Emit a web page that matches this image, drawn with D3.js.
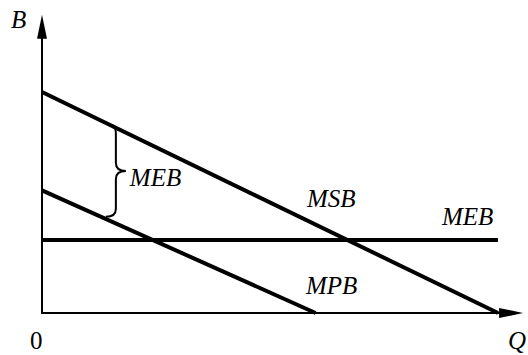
<!DOCTYPE html>
<html>
<head>
<meta charset="utf-8">
<script src="https://cdn.jsdelivr.net/npm/d3@7"></script>
<style>
  body { margin: 0; background: #fff; }
  svg text { font-family: "Liberation Serif", "Times New Roman", serif; font-size: 25px; fill: #000; }
  svg text.it { font-style: italic; }
</style>
</head>
<body>
<div id="chart"></div>
<script>
// Curves (Q, B)
const msbPoints = [[0, 10], [10, 0]];
const mpbPoints = [[0, 5.55], [6, 0]];
const mebPoints = [[0, 3.3], [10, 3.3]];
const curveNames = ["MSB", "MPB", "MEB"];

// The brace marks the gap between MSB and MPB
const braceQ = 1.62;
const braceTop = 8.5;
const braceBottom = 4.35;

// Axis extents and labels
const axisMax = { q: 10.55, b: 13.5 };
const axisLabels = ["B", "Q", "0"];

const width = 528, height = 355;

const svg = d3.select("#chart")
    .append("svg")
    .attr("width", width)
    .attr("height", height);

const x = d3.scaleLinear().domain([0, 10]).range([42, 498]);
const y = d3.scaleLinear().domain([0, 10]).range([313, 92]);

const line = d3.line()
    .x(d => x(d[0]))
    .y(d => y(d[1]));

// Axes
svg.append("line")
    .attr("x1", x(0)).attr("y1", y(0))
    .attr("x2", x(axisMax.q) - 20).attr("y2", y(0))
    .attr("stroke", "#000").attr("stroke-width", 2);
svg.append("line")
    .attr("x1", x(0)).attr("y1", y(0) + 1)
    .attr("x2", x(0)).attr("y2", y(axisMax.b) + 20)
    .attr("stroke", "#000").attr("stroke-width", 2);

// Arrowheads
const tipX = x(axisMax.q), tipY = y(axisMax.b);
svg.append("path")
    .attr("d", `M${tipX},${y(0)} L${tipX - 24},${y(0) - 5} L${tipX - 24},${y(0) + 5} Z`)
    .attr("fill", "#000");
svg.append("path")
    .attr("d", `M${x(0)},${tipY} L${x(0) - 5},${tipY + 24} L${x(0) + 5},${tipY + 24} Z`)
    .attr("fill", "#000");

// Curves
[msbPoints, mpbPoints, mebPoints].forEach(pts => {
    svg.append("path")
        .datum(pts)
        .attr("d", line)
        .attr("fill", "none")
        .attr("stroke", "#000")
        .attr("stroke-width", 4);
});

// Brace
const bx = x(braceQ), bt = y(braceTop), bb = y(braceBottom);
const bm = (bt + bb) / 2, r = 8;
svg.append("path")
    .attr("d", `M${bx - 5},${bt} Q${bx},${bt} ${bx},${bt + r}
        L${bx},${bm - r} Q${bx},${bm} ${bx + 10},${bm}
        Q${bx},${bm} ${bx},${bm + r}
        L${bx},${bb - r} Q${bx},${bb} ${bx - 10},${bb}`)
    .attr("fill", "none")
    .attr("stroke", "#000")
    .attr("stroke-width", 2);

function label(px, py, str, italic) {
    svg.append("text")
        .attr("class", italic ? "it" : null)
        .attr("x", px).attr("y", py)
        .text(str);
}

// Curve labels
label(307, 207, curveNames[0], true);
label(306, 294, curveNames[1], true);
label(442, 225, curveNames[2], true);
label(bx + 14, 186, curveNames[2], true);

// Axis labels
label(11, 28, axisLabels[0], true);
label(508, 349, axisLabels[1], true);
label(30, 349, axisLabels[2], false);
</script>
</body>
</html>
